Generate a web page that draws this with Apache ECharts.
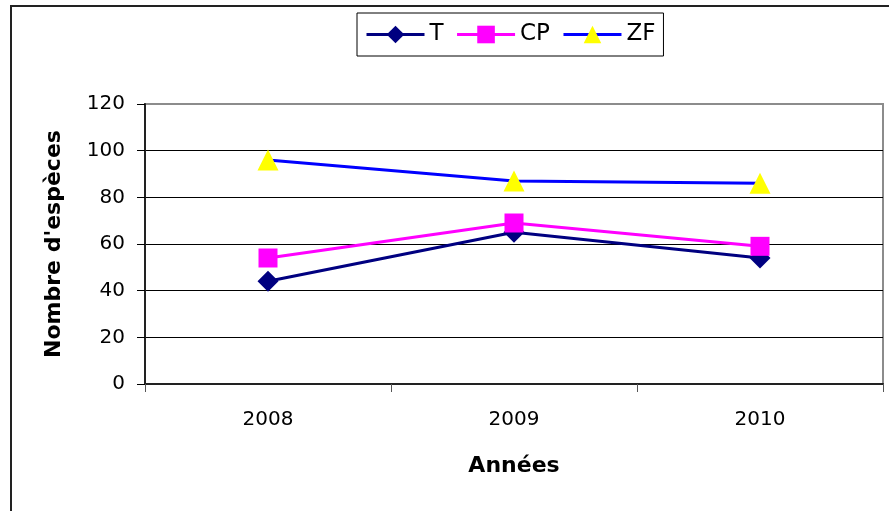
<!DOCTYPE html>
<html>
<head>
<meta charset="utf-8">
<script src="https://cdn.jsdelivr.net/npm/echarts@6/dist/echarts.min.js"></script>
<style>
  html, body { margin: 0; padding: 0; background: #fff; }
  #chart { width: 889px; height: 511px; }
</style>
</head>
<body>
<div id="chart"></div>
<script>
// Species counts per year for each site
const years = ['2008', '2009', '2010'];
const valuesT = [44, 65, 54];
const valuesCP = [54, 69, 59];
const valuesZF = [96, 87, 86];
const yTicks = { min: 0, max: 120, interval: 20 };

const FONT = 'DejaVu Sans';

const chart = echarts.init(document.getElementById('chart'), null, { renderer: 'canvas' });

function lineSeries(name, data, color, symbol, symbolColor, size) {
  return {
    name: name,
    type: 'line',
    data: data,
    symbol: symbol,
    symbolSize: size,
    showAllSymbol: true,
    lineStyle: { color: color, width: 3 },
    itemStyle: { color: symbolColor, borderWidth: 0 },
    emphasis: { disabled: true },
    animation: false
  };
}

chart.setOption({
  backgroundColor: '#fff',
  animation: false,
  graphic: [{
    type: 'rect',
    shape: { x: 11, y: 6, width: 1000, height: 1000 },
    style: { fill: 'none', stroke: '#222', lineWidth: 2 },
    silent: true,
    z: 0
  }],
  grid: {
    left: 145, right: 6, top: 104, bottom: 127,
    show: true,
    borderColor: '#8c8c8c',
    borderWidth: 2,
    backgroundColor: 'transparent'
  },
  legend: {
    data: ['T', 'CP', 'ZF'],
    left: 357, top: 13,
    padding: [10, 8],
    itemWidth: 58,
    itemHeight: 22,
    itemGap: 12,
    backgroundColor: '#fff',
    borderColor: '#000',
    borderWidth: 1,
    lineStyle: { width: 3 },
    textStyle: { fontFamily: FONT, fontSize: 23, color: '#000' },
    selectedMode: false
  },
  xAxis: {
    type: 'category',
    data: years,
    boundaryGap: true,
    name: 'Années',
    nameLocation: 'middle',
    nameGap: 71,
    nameTextStyle: { fontFamily: FONT, fontSize: 22, fontWeight: 'bold', color: '#000' },
    axisLine: { lineStyle: { color: '#222', width: 2 } },
    axisTick: { show: true, length: 8, lineStyle: { color: '#555' } },
    axisLabel: { fontFamily: FONT, fontSize: 20, color: '#000', margin: 26 },
    splitLine: { show: false }
  },
  yAxis: {
    type: 'value',
    min: yTicks.min, max: yTicks.max, interval: yTicks.interval,
    name: "Nombre d'espèces",
    nameLocation: 'middle',
    nameRotate: 90,
    nameGap: 80,
    nameTextStyle: { fontFamily: FONT, fontSize: 22, fontWeight: 'bold', color: '#000' },
    axisLine: { show: true, lineStyle: { color: '#222', width: 2 } },
    axisTick: { show: true, length: 8, lineStyle: { color: '#000' } },
    axisLabel: { fontFamily: FONT, fontSize: 20, color: '#000', margin: 20 },
    splitLine: { show: true, showMaxLine: false, lineStyle: { color: '#000', width: 1 } }
  },
  series: [
    lineSeries('T', valuesT, '#000080', 'diamond', '#000080', 21),
    lineSeries('CP', valuesCP, '#ff00ff', 'rect', '#ff00ff', 19),
    lineSeries('ZF', valuesZF, '#0000ff', 'triangle', '#ffff00', 21)
  ]
});
</script>
</body>
</html>
